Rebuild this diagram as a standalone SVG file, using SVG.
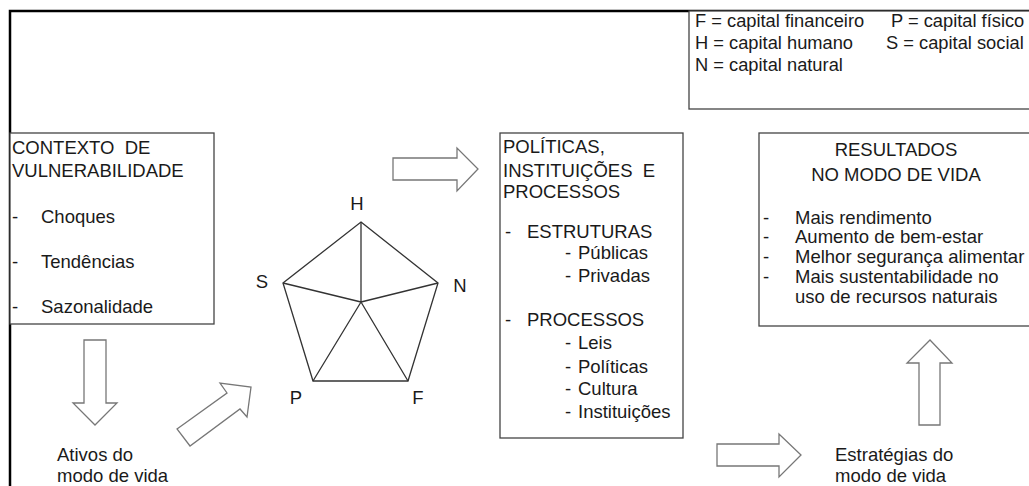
<svg xmlns="http://www.w3.org/2000/svg" width="1029" height="486" viewBox="0 0 1029 486">
<style>
text{font-family:"Liberation Sans",Arial,sans-serif;font-size:18.5px;fill:#1a1a1a}
.lg{font-size:18.3px}
.pre{white-space:pre}
.box{fill:#fff;stroke:#444;stroke-width:1.3}
.arr{fill:#fff;stroke:#777;stroke-width:1.3;stroke-linejoin:miter}
.pent{fill:none;stroke:#333;stroke-width:1.3}
.mid{text-anchor:middle}
</style>
<rect width="1029" height="486" fill="#fff"/>
<g id="frame"><path d="M10 486 V11 H1029" fill="none" stroke="#000" stroke-width="2.5"/></g>
<g id="legend">
<rect class="box" x="689" y="11" width="345" height="98"/>
<text class="lg" x="695" y="27">F = capital financeiro</text><text class="lg" x="891" y="27">P = capital físico</text>
<text class="lg" x="695" y="49">H = capital humano</text><text class="lg" x="886" y="49">S = capital social</text>
<text class="lg" x="695" y="71">N = capital natural</text>
</g>
<g id="contexto">
<rect class="box" x="10" y="133" width="204" height="191"/>
<text class="pre" x="12" y="154" xml:space="preserve">CONTEXTO  DE</text>
<text x="12" y="177">VULNERABILIDADE</text>
<text x="12" y="223">-</text><text x="41" y="223">Choques</text>
<text x="12" y="268">-</text><text x="41" y="268">Tendências</text>
<text x="12" y="313">-</text><text x="41" y="313">Sazonalidade</text>
</g>
<g id="politicas">
<rect class="box" x="500" y="133" width="183" height="305"/>
<text x="503" y="153">POLÍTICAS,</text>
<text class="pre" x="503" y="177" xml:space="preserve">INSTITUIÇÕES  E</text>
<text x="503" y="198">PROCESSOS</text>
<text x="505" y="238">-</text><text x="527" y="238">ESTRUTURAS</text>
<text x="565" y="259">-</text><text x="578" y="259">Públicas</text>
<text x="565" y="282">-</text><text x="578" y="282">Privadas</text>
<text x="505" y="326">-</text><text x="527" y="326">PROCESSOS</text>
<text x="565" y="349">-</text><text x="578" y="349">Leis</text>
<text x="565" y="373">-</text><text x="578" y="373">Políticas</text>
<text x="565" y="395">-</text><text x="578" y="395">Cultura</text>
<text x="565" y="418">-</text><text x="578" y="418">Instituições</text>
</g>
<g id="resultados">
<rect class="box" x="759" y="133" width="275" height="193"/>
<text class="mid" x="896" y="156">RESULTADOS</text>
<text class="mid" x="896" y="181">NO MODO DE VIDA</text>
<text x="763" y="224">-</text><text x="795" y="224">Mais rendimento</text>
<text x="763" y="243">-</text><text x="795" y="243">Aumento de bem-estar</text>
<text x="763" y="263">-</text><text x="795" y="263">Melhor segurança alimentar</text>
<text x="763" y="283">-</text><text x="795" y="283">Mais sustentabilidade no</text>
<text x="795" y="303">uso de recursos naturais</text>
</g>
<g id="pentagono">
<polygon class="pent" points="361,222 438,283 408,381 313,381 283,283"/>
<path class="pent" d="M361,302 L361,222 M361,302 L438,283 M361,302 L408,381 M361,302 L313,381 M361,302 L283,283"/>
<text class="mid" x="357" y="210">H</text>
<text class="mid" x="262" y="288">S</text>
<text class="mid" x="460" y="292">N</text>
<text class="mid" x="296" y="404">P</text>
<text class="mid" x="418" y="404">F</text>
</g>
<g id="ativos">
<text x="57" y="461">Ativos do</text>
<text x="57" y="482">modo de vida</text>
</g>
<g id="estrategias">
<text x="835" y="461">Estratégias do</text>
<text x="835" y="482">modo de vida</text>
</g>
<g id="connectors">
<polygon class="arr" points="393,158 457,158 457,148 478,169 457,191 457,180 393,180"/>
<polygon class="arr" points="84,340 106,340 106,403 117,403 95,425 73,403 84,403"/>
<polygon class="arr" points="177,429 227,393 220,383 251,387 247,417 240,409 190,446"/>
<polygon class="arr" points="717,444 779,444 779,434 801,455 779,477 779,466 717,466"/>
<polygon class="arr" points="919,425 940,425 940,363 952,363 930,340 907,363 919,363"/>
</g>
</svg>
